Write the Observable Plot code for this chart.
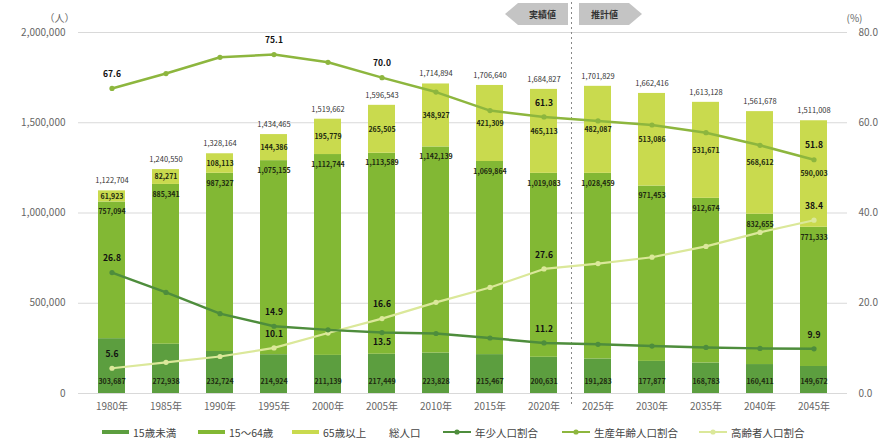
<!DOCTYPE html>
<html><head><meta charset="utf-8">
<script src="https://cdn.jsdelivr.net/npm/d3@7"></script>
<script src="https://cdn.jsdelivr.net/npm/@observablehq/plot@0.6"></script>
<style>
body{margin:0;background:#fff;font-family:"Noto Sans CJK JP","Noto Sans",sans-serif;}
#wrap{position:relative;width:888px;height:441px;overflow:hidden;background:#fff;}
.tag{position:absolute;top:3px;height:22px;background:#c4c4c4;color:#333;font-size:9px;font-weight:bold;display:flex;align-items:center;justify-content:center;box-sizing:border-box;}
.lg{position:absolute;top:424px;height:16px;display:flex;align-items:center;font-size:10.5px;color:#444;white-space:nowrap;}
.lg svg{margin-right:4px;}
</style></head><body>
<div id="wrap">
<div id="chart"></div>
<div class="tag" style="left:505px;width:63px;padding-left:12px;clip-path:polygon(0 50%,13px 0,100% 0,100% 100%,13px 100%);">実績値</div>
<div class="tag" style="left:579px;width:63px;padding-right:12px;clip-path:polygon(0 0,calc(100% - 13px) 0,100% 50%,calc(100% - 13px) 100%,0 100%);">推計値</div>
<div class="lg" style="left:102px"><svg width="27" height="6"><line x1="0" x2="27" y1="3" y2="3" stroke="#5c9e3f" stroke-width="4"/></svg>15歳未満</div>
<div class="lg" style="left:198px"><svg width="27" height="6"><line x1="0" x2="27" y1="3" y2="3" stroke="#82b834" stroke-width="4"/></svg>15～64歳</div>
<div class="lg" style="left:292px"><svg width="27" height="6"><line x1="0" x2="27" y1="3" y2="3" stroke="#c9da4e" stroke-width="4"/></svg>65歳以上</div>
<div class="lg" style="left:389px">総人口</div>
<div class="lg" style="left:443px"><svg width="28" height="8"><line x1="0" x2="28" y1="4" y2="4" stroke="#4e8d3c" stroke-width="2"/><circle cx="14" cy="4" r="2.6" fill="#4e8d3c"/></svg>年少人口割合</div>
<div class="lg" style="left:562px"><svg width="28" height="8"><line x1="0" x2="28" y1="4" y2="4" stroke="#8db63e" stroke-width="2"/><circle cx="14" cy="4" r="2.6" fill="#8db63e"/></svg>生産年齢人口割合</div>
<div class="lg" style="left:699px"><svg width="28" height="8"><line x1="0" x2="28" y1="4" y2="4" stroke="#dbe89a" stroke-width="2"/><circle cx="14" cy="4" r="2.6" fill="#dbe89a"/></svg>高齢者人口割合</div>
</div>
<script>
const years = ["1980年","1985年","1990年","1995年","2000年","2005年","2010年","2015年","2020年","2025年","2030年","2035年","2040年","2045年"];
const groups = ["15歳未満","15～64歳","65歳以上"];
const popUnder15 = [303687,272938,232724,214924,211139,217449,223828,215467,200631,191283,177877,168783,160411,149672];
const pop15to64  = [757094,885341,987327,1075155,1112744,1113589,1142139,1069864,1019083,1028459,971453,912674,832655,771333];
const pop65over  = [61923,82271,108113,144386,195779,265505,348927,421309,465113,482087,513086,531671,568612,590003];
const popTotal   = [1122704,1240550,1328164,1434465,1519662,1596543,1714894,1706640,1684827,1701829,1662416,1613128,1561678,1511008];
const ratioUnder15 = [26.8,22.4,17.7,14.9,14.1,13.5,13.3,12.3,11.2,10.9,10.5,10.2,10.0,9.9];
const ratio15to64  = [67.6,70.9,74.5,75.1,73.4,70.0,66.8,62.7,61.3,60.4,59.5,57.8,55.0,51.8];
const ratio65over  = [5.6,6.9,8.2,10.1,13.4,16.6,20.2,23.5,27.6,28.8,30.2,32.6,35.7,38.4];
const labelYears = ["1980年","1995年","2005年","2020年","2045年"];
const popTicks = [0,500000,1000000,1500000,2000000];
const pctTicks = [0,20,40,60,80];
const boundaryYear = "2020年";

const PCT = 2000000 / 80; // map percent onto the population axis
const fmt = d3.format(",");
const barColors = ["#5c9e3f","#82b834","#c9da4e"];

const popRows = years.flatMap((yr,i)=>[
  {year:yr, group:groups[0], value:popUnder15[i]},
  {year:yr, group:groups[1], value:pop15to64[i]},
  {year:yr, group:groups[2], value:pop65over[i]}
]);
const totalRows = years.map((yr,i)=>({year:yr, total:popTotal[i]}));
const mk = arr => years.map((yr,i)=>({year:yr, r:arr[i]}));
const rU = mk(ratioUnder15), rW = mk(ratio15to64), rO = mk(ratio65over);
const lbl = rows => rows.filter(d=>labelYears.includes(d.year));

const lineU = "#4e8d3c", lineW = "#8db63e", lineO = "#dbe89a";
const ratioText = {text:d=>d.r.toFixed(1), fontSize:8.5, fontWeight:"bold", fill:"#111"};

const chart = Plot.plot({
  width:888, height:420,
  marginLeft:78, marginRight:41, marginTop:32, marginBottom:27,
  style:{fontFamily:'"Noto Sans CJK JP","Noto Sans",sans-serif', fontSize:"10px", background:"white"},
  x:{type:"band", domain:years, paddingInner:0.5, paddingOuter:0.25},
  y:{domain:[0,2000000]},
  color:{domain:groups, range:barColors},
  marks:[
    Plot.gridY(popTicks, {stroke:"#d9d9d9", strokeOpacity:1}),
    Plot.axisY({anchor:"left", ticks:popTicks, tickFormat:fmt, tickSize:0, tickPadding:13, fontSize:10, color:"#666", label:null}),
    Plot.axisY({anchor:"right", ticks:pctTicks.map(p=>p*PCT), tickFormat:d=>(d/PCT).toFixed(1), tickSize:0, tickPadding:11, fontSize:10, color:"#666", label:null}),
    Plot.axisX({tickSize:0, tickPadding:9, fontSize:10, color:"#666", label:null}),
    Plot.text(["（人）"], {frameAnchor:"top-left", text:d=>d, dx:-34, dy:-18, fontSize:10, fill:"#666"}),
    Plot.text(["(%)"], {frameAnchor:"top-right", text:d=>d, dx:15, dy:-18, fontSize:10, fill:"#666"}),
    Plot.barY(popRows, {x:"year", y:"value", fill:"group", order:groups}),
    Plot.text(popRows, Plot.stackY({x:"year", y:"value", z:"group", order:groups,
      text:d=>d.group===groups[2]?fmt(d.value):null, fontSize:7, fontWeight:"bold", fill:"#1e2a10"})),
    Plot.text(popRows, Plot.stackY2({x:"year", y:"value", z:"group", order:groups,
      text:d=>d.group===groups[1]?fmt(d.value):null, dy:10, fontSize:7, fontWeight:"bold", fill:"#1e2a10"})),
    Plot.text(popRows, Plot.stackY1({x:"year", y:"value", z:"group", order:groups,
      text:d=>d.group===groups[0]?fmt(d.value):null, dy:-12, fontSize:7, fontWeight:"bold", fill:"#1e2a10"})),
    Plot.text(totalRows, {x:"year", y:"total", text:d=>fmt(d.total), dy:-10, fontSize:7.5, fill:"#333"}),
    Plot.ruleX([boundaryYear], {x:d=>d, dx:27.5, stroke:"#888", strokeDasharray:"2,3", insetTop:-30, insetBottom:-14}),
    Plot.line(rO, {x:"year", y:d=>d.r*PCT, stroke:lineO, strokeWidth:2.2}),
    Plot.dot(rO, {x:"year", y:d=>d.r*PCT, r:2.6, fill:lineO}),
    Plot.line(rU, {x:"year", y:d=>d.r*PCT, stroke:lineU, strokeWidth:2.5}),
    Plot.dot(rU, {x:"year", y:d=>d.r*PCT, r:2.6, fill:lineU}),
    Plot.line(rW, {x:"year", y:d=>d.r*PCT, stroke:lineW, strokeWidth:2.5}),
    Plot.dot(rW, {x:"year", y:d=>d.r*PCT, r:2.6, fill:lineW}),
    Plot.text(lbl(rW), {x:"year", y:d=>d.r*PCT, dy:-14, ...ratioText}),
    Plot.text(lbl(rO), {x:"year", y:d=>d.r*PCT, dy:-14, ...ratioText}),
    Plot.text(lbl(rU).filter(d=>d.year!=="2005年"), {x:"year", y:d=>d.r*PCT, dy:-14, ...ratioText}),
    Plot.text(lbl(rU).filter(d=>d.year==="2005年"), {x:"year", y:d=>d.r*PCT, dy:10, ...ratioText})
  ]
});
document.getElementById("chart").appendChild(chart);
</script>
</body></html>
